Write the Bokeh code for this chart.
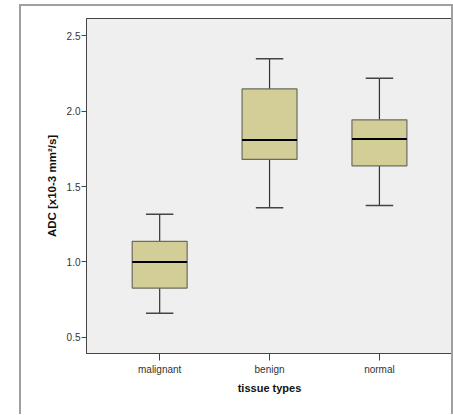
from bokeh.plotting import figure
from bokeh.models import ColumnDataSource, Range1d, FixedTicker, PrintfTickFormatter
from bokeh.embed import file_html
from bokeh.resources import INLINE

categories = ["malignant", "benign", "normal"]
lower_whisker = [0.66, 1.36, 1.375]
q1 = [0.827, 1.68, 1.638]
median = [1.0, 1.809, 1.815]
q3 = [1.137, 2.148, 1.943]
upper_whisker = [1.317, 2.348, 2.219]
y_ticks = [0.5, 1.0, 1.5, 2.0, 2.5]

xpos = [i + 1 for i in range(len(categories))]
box_w = 0.5
cap_w = 0.25
src = ColumnDataSource(dict(
    x=xpos, q1=q1, q3=q3, med=median, lo=lower_whisker, hi=upper_whisker,
    bl=[x - box_w / 2 for x in xpos], br=[x + box_w / 2 for x in xpos],
    cl=[x - cap_w / 2 for x in xpos], cr=[x + cap_w / 2 for x in xpos],
))

p = figure(width=430, height=408, output_backend="svg", toolbar_location=None,
           x_range=Range1d(0.334, 3.665), y_range=Range1d(0.393, 2.615),
           min_border_left=65, min_border_right=3, min_border_top=12, min_border_bottom=63)
p.margin = (4, 0, 0, 19)
p.styles = {"box-sizing": "content-box",
            "border-left": "2px solid #a0a0a0", "border-top": "2px solid #a0a0a0",
            "border-right": "2px solid #a0a0a0"}

p.background_fill_color = "#efefef"
p.border_fill_color = "white"
p.outline_line_color = "#444444"
p.outline_line_width = 1
p.xgrid.visible = False
p.ygrid.visible = False

# whiskers
p.segment(x0="x", y0="q3", x1="x", y1="hi", source=src, line_color="#333333", line_width=1.2)
p.segment(x0="x", y0="q1", x1="x", y1="lo", source=src, line_color="#333333", line_width=1.2)
p.segment(x0="cl", y0="hi", x1="cr", y1="hi", source=src, line_color="#444444", line_width=1.5)
p.segment(x0="cl", y0="lo", x1="cr", y1="lo", source=src, line_color="#444444", line_width=1.5)
# boxes
p.vbar(x="x", width=box_w, bottom="q1", top="q3", source=src,
       fill_color="#d3ce98", line_color="#6b6b5e", line_width=1.2)
# medians
p.segment(x0="bl", y0="med", x1="br", y1="med", source=src, line_color="#000000", line_width=2)

font = "Liberation Sans"
p.xaxis.ticker = FixedTicker(ticks=xpos)
p.xaxis.major_label_overrides = {x: c for x, c in zip(xpos, categories)}
p.yaxis.ticker = FixedTicker(ticks=y_ticks)
p.yaxis.formatter = PrintfTickFormatter(format="%.1f")
for ax in (p.xaxis[0], p.yaxis[0]):
    ax.axis_line_color = "#444444"
    ax.major_tick_line_color = "#444444"
    ax.major_tick_in = 0
    ax.minor_tick_line_color = None
    ax.major_label_text_font = font
    ax.major_label_text_font_size = "10px"
    ax.major_label_text_color = "#333333"
    ax.axis_label_text_font = font
    ax.axis_label_text_font_style = "bold"
    ax.axis_label_text_color = "#111111"
p.xaxis.major_tick_out = 7
p.yaxis.major_tick_out = 5
p.xaxis.major_label_standoff = 3
p.yaxis.major_label_standoff = 1
p.xaxis.axis_label = "tissue types"
p.yaxis.axis_label = "ADC [x10-3 mm²/s]"
p.xaxis.axis_label_text_font_size = "11px"
p.yaxis.axis_label_text_font_size = "11.5px"
p.xaxis.axis_label_standoff = 4
p.yaxis.axis_label_standoff = 6

open("out.html", "w").write(file_html(p, INLINE))
